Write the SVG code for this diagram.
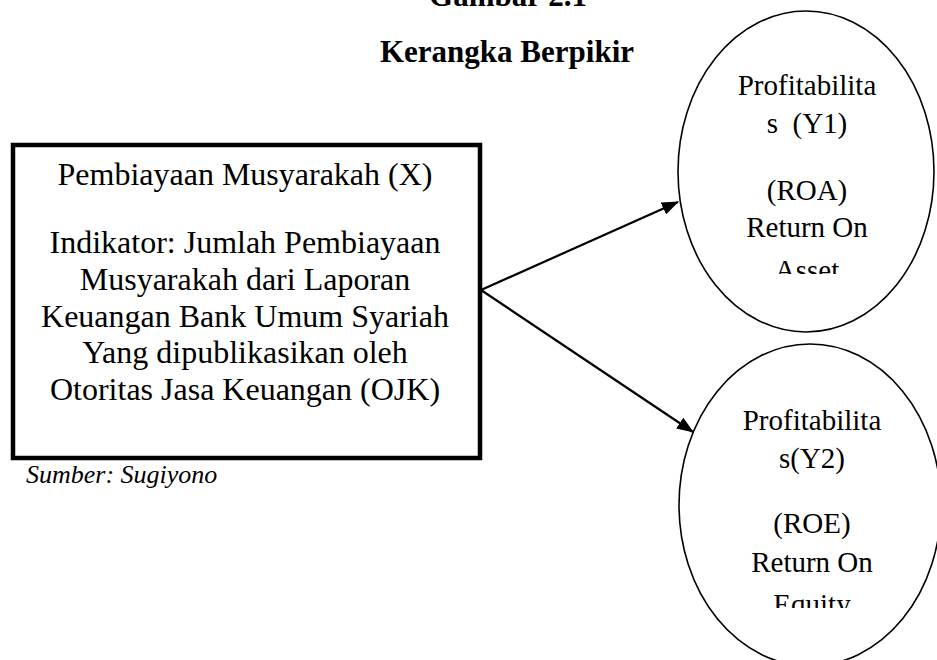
<svg xmlns="http://www.w3.org/2000/svg" width="937" height="660" viewBox="0 0 937 660">
<style>
.t{font-family:"Liberation Serif","Times New Roman",serif;fill:#000;text-anchor:middle}
.title{font-size:31px;font-weight:bold}
.box{font-size:32px}
.el{font-size:29px}
.src{font-size:26px;font-style:italic;text-anchor:start}
.node{fill:#fff;stroke:#000}
.conn{stroke:#000;stroke-width:2.2;fill:none}
</style>
<defs>
<marker id="ah" markerWidth="17" markerHeight="13" refX="16" refY="6.5" orient="auto" markerUnits="userSpaceOnUse">
<path d="M0,0 L17,6.5 L0,13 z" fill="#000"/>
</marker>
<clipPath id="c1"><rect x="680" y="60" width="260" height="214"/></clipPath>
<clipPath id="c2"><rect x="680" y="390" width="260" height="218"/></clipPath>
</defs>
<rect width="937" height="660" fill="#fff"/>
<g id="title">
<text class="t title" x="508" y="6">Gambar 2.1</text>
<text class="t title" x="507" y="62">Kerangka Berpikir</text>
</g>
<g id="node-x">
<rect class="node" x="13" y="145" width="467" height="313" stroke-width="4.5"/>
<text class="t box" x="245" y="185">Pembiayaan Musyarakah (X)</text>
<text class="t box" x="245" y="253">Indikator: Jumlah Pembiayaan</text>
<text class="t box" x="245" y="290">Musyarakah dari Laporan</text>
<text class="t box" x="245" y="327">Keuangan Bank Umum Syariah</text>
<text class="t box" x="245" y="363">Yang dipublikasikan oleh</text>
<text class="t box" x="245" y="400">Otoritas Jasa Keuangan (OJK)</text>
</g>
<g id="source">
<text class="t src" x="26" y="483">Sumber: Sugiyono</text>
</g>
<g id="node-y1">
<ellipse class="node" cx="806" cy="171.5" rx="128" ry="160.5" stroke-width="1.6"/>
<g clip-path="url(#c1)">
<text class="t el" x="807" y="95">Profitabilita</text>
<text class="t el" x="807" y="133" xml:space="preserve">s  (Y1)</text>
<text class="t el" x="807" y="200">(ROA)</text>
<text class="t el" x="807" y="237">Return On</text>
<text class="t el" x="807" y="280">Asset</text>
</g>
</g>
<g id="node-y2">
<ellipse class="node" cx="810" cy="505" rx="131" ry="161" stroke-width="1.6"/>
<g clip-path="url(#c2)">
<text class="t el" x="812" y="430">Profitabilita</text>
<text class="t el" x="812" y="468">s(Y2)</text>
<text class="t el" x="812" y="533">(ROE)</text>
<text class="t el" x="812" y="572">Return On</text>
<text class="t el" x="812" y="614">Equity</text>
</g>
</g>
<g id="connectors">
<line class="conn" x1="481" y1="290" x2="678" y2="202" marker-end="url(#ah)"/>
<line class="conn" x1="481" y1="290" x2="693" y2="432" marker-end="url(#ah)"/>
</g>
</svg>
